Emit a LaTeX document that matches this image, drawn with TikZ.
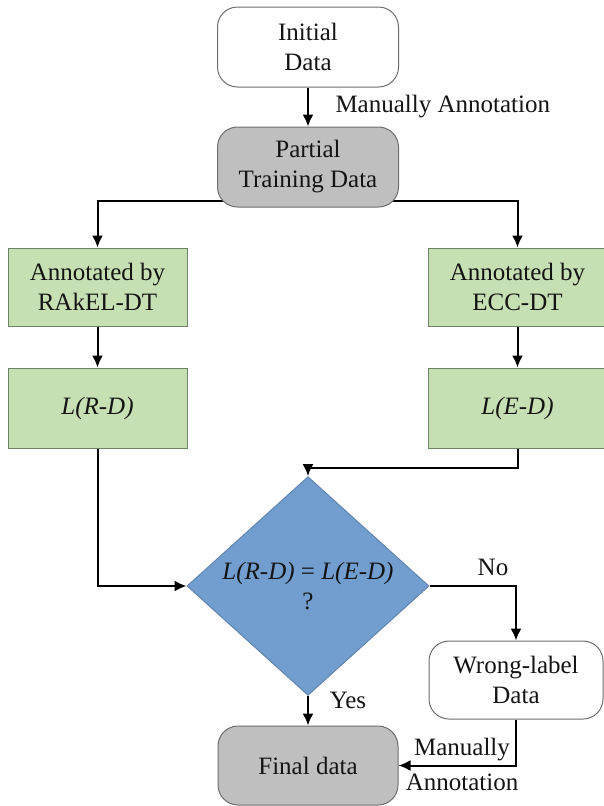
\documentclass[tikz,border=0pt]{standalone}
\usepackage{fontspec}
\setmainfont{Liberation Serif}
\usetikzlibrary{arrows.meta,shapes.geometric,backgrounds}
\definecolor{greenfill}{RGB}{198,224,180}
\definecolor{greenline}{RGB}{110,130,100}
\definecolor{grayfill}{RGB}{191,191,191}
\definecolor{grayline}{RGB}{110,110,110}
\definecolor{bluefill}{RGB}{114,157,207}
\definecolor{txt}{RGB}{20,20,20}
\tikzset{
  base/.style={inner sep=0pt, align=center, text=txt, font=\fontsize{25}{30}\selectfont, line width=1pt},
  whitebox/.style={base, draw=grayline, fill=white, rounded corners=20pt, minimum width=181pt, minimum height=80pt},
  graybox/.style={base, draw=grayline, fill=grayfill, rounded corners=20pt, minimum width=181pt, minimum height=80pt},
  greenbox/.style={base, draw=greenline, fill=greenfill, minimum width=179pt, minimum height=78pt},
  decision/.style={base, diamond, fill=bluefill, draw=bluefill!85!black, minimum width=242pt, minimum height=182pt},
  lbl/.style={base, inner sep=0pt},
  arr/.style={line width=2pt, draw=black, -{Latex[length=12pt,width=11pt]}},
  ln/.style={line width=2pt, draw=black}
}
\begin{document}
\begin{tikzpicture}[x=1pt,y=-1pt]
\useasboundingbox (0,0) rectangle (603,806);
\node[whitebox] (init) at (308,47) {Initial\\Data};
\node[graybox] (part) at (308,167) {Partial\\Training Data};
\node[greenbox] (ral) at (97.5,287) {Annotated by\\RAkEL-DT};
\node[greenbox] (ecc) at (517.5,287) {Annotated by\\ECC-DT};
\node[greenbox, minimum height=80pt] (lrd) at (97.5,408) {\itshape L(R-D)};
\node[greenbox, minimum height=80pt] (led) at (517.5,408) {\itshape L(E-D)};
\node[decision] (dec) at (308,586) {\itshape L(R-D) {\upshape =} L(E-D)\\?};
\node[whitebox, minimum width=174pt, minimum height=78pt] (wrong) at (516,680) {Wrong-label\\Data};
\node[graybox, minimum width=180pt, minimum height=79pt] (final) at (308,765.5) {Final data};
\coordinate (br) at (308,201);
\coordinate (jn) at (308,468);
\begin{scope}[on background layer]
\draw[arr] (br) -| (ral.north);
\draw[arr] (br) -| (ecc.north);
\end{scope}
\draw[arr] (init) -- (part);
\draw[arr] (ral) -- (lrd);
\draw[arr] (ecc) -- (led);
\draw[ln] (led.south) |- (jn);
\draw[arr] (jn) -- (dec.north);
\draw[arr] (lrd.south) |- (dec.west);
\draw[arr] (dec.east) -| (wrong.north);
\draw[arr] (dec.south) -- (final.north);
\draw[arr] (wrong.south) |- (final.east);
\node[lbl, anchor=west] (manann) at (335,107) {Manually Annotation};
\node[lbl] (no) at (493,567) {No};
\node[lbl] (yes) at (348,700) {Yes};
\node[lbl] (man2) at (462,750) {Manually};
\node[lbl] (ann2) at (462,782) {Annotation};
\end{tikzpicture}
\end{document}
